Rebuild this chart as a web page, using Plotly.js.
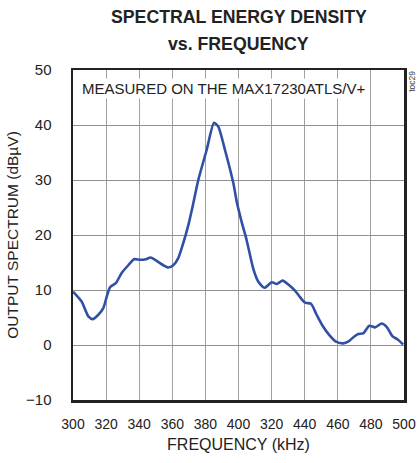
<!DOCTYPE html>
<html>
<head>
<meta charset="utf-8">
<script src="https://cdn.plot.ly/plotly-3.0.1.min.js"></script>
<style>html,body{margin:0;padding:0;background:#fff;}#chart{width:417px;height:463px;}</style>
</head>
<body>
<div id="chart"></div>
<script>
const freqKHz = [300,305.2,309.3,311.9,315.3,318.3,320.4,322.4,326,329.4,333.4,336.9,340.5,344.1,346.9,350.6,354.6,357.6,360.6,363.6,366.6,369.7,372.5,375.7,380.8,385.2,387.8,391.8,396.9,398.9,401.9,404.9,408.9,412,415.6,420.1,423.1,426.7,430.1,434.1,437.2,440.2,443.8,447.2,450.8,454.9,458.9,463.3,466.3,469.8,472.4,475.4,479,482.5,486.5,489.5,493,496.2,499.5];
const spectrumDbuV = [9.7,7.9,5.2,4.7,5.5,6.7,8.8,10.5,11.3,13.1,14.5,15.6,15.5,15.6,15.9,15.3,14.5,14.1,14.5,15.8,18.5,21.8,25.5,30,35.5,40.4,39.7,35.5,29.4,26.1,22.4,19.1,13.9,11.5,10.4,11.4,11.1,11.7,11.0,9.9,8.7,7.7,7.5,5.5,3.5,1.8,0.6,0.3,0.6,1.5,2.0,2.1,3.5,3.2,3.9,3.3,1.6,1.0,0.1];
const xTickVals = [300,320,340,360,380,400,420,440,460,480,500];
const xTickText = ["300","320","340","360","380","400","320","440","460","480","500"];
const yTickVals = [-10,0,10,20,30,40,50];

const FONT = '"Liberation Sans", Arial, sans-serif';

Plotly.newPlot('chart', [{
  x: freqKHz, y: spectrumDbuV, type: 'scatter', mode: 'lines',
  line: {color: '#3150a5', width: 2.6, shape: 'spline', smoothing: 0.6},
  hoverinfo: 'skip'
}], {
  width: 417, height: 463,
  margin: {l: 73, r: 13, t: 70, b: 63},
  paper_bgcolor: '#fff', plot_bgcolor: '#fff',
  showlegend: false,
  xaxis: {range: [300, 500], tickvals: xTickVals, ticktext: xTickText,
    showgrid: true, gridcolor: '#a0a0a0', gridwidth: 1, zeroline: false,
    showline: true, mirror: true, linecolor: '#222', linewidth: 2.5,
    ticks: '', ticklabelstandoff: 10,
    tickfont: {family: FONT, size: 14, color: '#222'},
    title: {text: 'FREQUENCY (kHz)', font: {family: FONT, size: 16, color: '#222'}, standoff: 8}},
  yaxis: {range: [-10, 50], tickvals: yTickVals,
    showgrid: true, gridcolor: '#909090', gridwidth: 1, zeroline: false,
    showline: true, mirror: true, linecolor: '#222', linewidth: 2.5,
    ticks: '', ticklabelstandoff: 16,
    tickfont: {family: FONT, size: 15, color: '#222'},
    title: {text: 'OUTPUT SPECTRUM (dBµV)', font: {family: FONT, size: 15.5, color: '#222'}, standoff: 4}},
  annotations: [
    {text: '<b>SPECTRAL ENERGY DENSITY</b>', xref: 'paper', yref: 'paper', x: 0.5, y: 1 + 53/330,
     xanchor: 'center', yanchor: 'middle', showarrow: false,
     font: {family: FONT, size: 17.7, color: '#222'}},
    {text: '<b>vs. FREQUENCY</b>', xref: 'paper', yref: 'paper', x: 0.5, y: 1 + 26/330,
     xanchor: 'center', yanchor: 'middle', showarrow: false,
     font: {family: FONT, size: 17.7, color: '#222'}},
    {text: 'MEASURED ON THE MAX17230ATLS/V+', xref: 'paper', yref: 'paper', x: 0.02, y: 0.945,
     xanchor: 'left', yanchor: 'middle', showarrow: false, bgcolor: '#fff',
     font: {family: FONT, size: 15, color: '#222'}},
    {text: 'toc29', xref: 'paper', yref: 'paper', x: 1.024, y: 0.967, xanchor: 'center', yanchor: 'middle',
     showarrow: false, textangle: -90, font: {family: FONT, size: 8.5, color: '#444'}}
  ]
}, {staticPlot: true});
</script>
</body>
</html>
